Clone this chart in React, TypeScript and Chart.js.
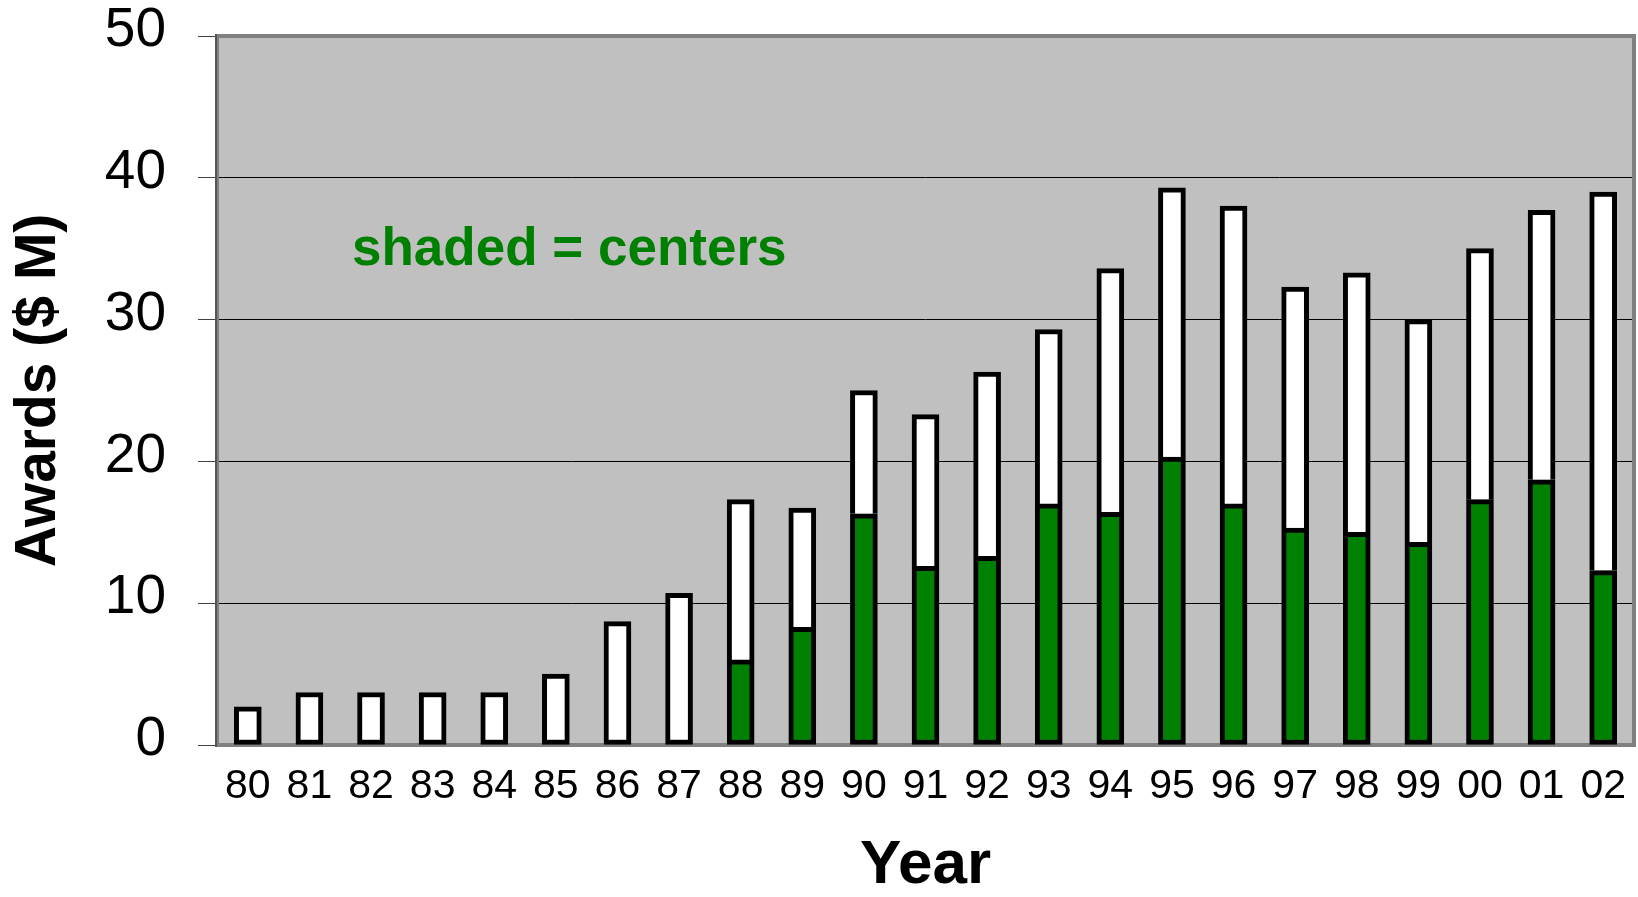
import React, { useEffect, useRef } from 'react';
import { Chart, registerables } from 'chart.js';

Chart.register(...registerables);

// ---- data ----
const years = ['80', '81', '82', '83', '84', '85', '86', '87', '88', '89', '90', '91', '92', '93', '94', '95', '96', '97', '98', '99', '00', '01', '02'];
const totalAwards = [2.7, 3.7, 3.7, 3.7, 3.7, 5.0, 8.7, 10.7, 17.3, 16.7, 25.0, 23.3, 26.3, 29.3, 33.6, 39.3, 38.0, 32.3, 33.3, 30.0, 35.0, 37.7, 39.0];
const centerAwards: (number | null)[] = [null, null, null, null, null, null, null, null, 6.0, 8.3, 16.3, 12.6, 13.3, 17.0, 16.4, 20.3, 17.0, 15.3, 15.0, 14.3, 17.3, 18.7, 12.3];
const yTicks = [0, 10, 20, 30, 40, 50];
const annotationText = 'shaded = centers';

const FONT = "'Liberation Sans', Arial, Helvetica, sans-serif";

const otherAwards = totalAwards.map((t, i) => {
  const c = centerAwards[i];
  return c == null ? t : +(t - c).toFixed(2);
});

const plotFrame = {
  id: 'plotFrame',
  beforeDraw(chart: any) {
    const { ctx, chartArea: a, width, height } = chart;
    ctx.save();
    ctx.fillStyle = '#ffffff';
    ctx.fillRect(0, 0, width, height);
    ctx.fillStyle = '#C0C0C0';
    ctx.fillRect(a.left, a.top, a.right - a.left, a.bottom - a.top);
    ctx.restore();
  },
  beforeDatasetsDraw(chart: any) {
    const { ctx, chartArea: a } = chart;
    ctx.save();
    ctx.strokeStyle = '#808080';
    ctx.lineWidth = 4;
    ctx.strokeRect(a.left, a.top, a.right - a.left, a.bottom - a.top);
    ctx.strokeStyle = '#555555';
    ctx.lineWidth = 2;
    ctx.beginPath();
    ctx.moveTo(a.left - 1, a.top - 2);
    ctx.lineTo(a.left - 1, a.bottom + 2);
    ctx.stroke();
    // annotation
    ctx.fillStyle = '#008000';
    ctx.font = `bold 53px ${FONT}`;
    ctx.textAlign = 'left';
    ctx.textBaseline = 'alphabetic';
    ctx.fillText(annotationText, a.left + 135, a.top + 229);
    ctx.restore();
  },
};

export default function App() {
  const canvasRef = useRef<HTMLCanvasElement | null>(null);

  useEffect(() => {
    document.body.style.margin = '0';
    const canvas = canvasRef.current;
    if (!canvas) return;
    const chart = new Chart(canvas, {
      type: 'bar',
      data: {
        labels: years,
        datasets: [
          {
            label: 'Centers',
            data: centerAwards,
            backgroundColor: '#008000',
            borderColor: '#000000',
            borderWidth: 5,
            borderSkipped: false,
            barThickness: 27,
          },
          {
            label: 'Other',
            data: otherAwards,
            backgroundColor: '#ffffff',
            borderColor: '#000000',
            borderWidth: 5,
            borderSkipped: (ctx: any) => (centerAwards[ctx.dataIndex] != null ? 'bottom' : false),
            barThickness: 27,
          },
        ] as any,
      },
      options: {
        animation: false,
        responsive: false,
        devicePixelRatio: 1,
        layout: { padding: { top: 36, right: 4, left: 0, bottom: 0 } },
        plugins: {
          legend: { display: false },
          tooltip: { enabled: false },
        },
        scales: {
          x: {
            type: 'category',
            stacked: true,
            grid: { display: false, drawTicks: false },
            border: { display: false },
            ticks: {
              color: '#000',
              font: { family: FONT, size: 41, lineHeight: 1 },
              padding: 21,
              maxRotation: 0,
              minRotation: 0,
              autoSkip: false,
            },
            title: {
              display: true,
              text: 'Year',
              color: '#000',
              font: { family: FONT, size: 62, weight: 'bold', lineHeight: 1 },
              padding: { top: 0, bottom: 0 },
            },
            afterFit: (scale: any) => {
              scale.height = 152;
              scale.paddingLeft = 0;
              scale.paddingRight = 0;
            },
          },
          y: {
            type: 'linear',
            stacked: true,
            min: 0,
            max: 50,
            afterBuildTicks: (scale: any) => {
              scale.ticks = yTicks.map((v) => ({ value: v }));
            },
            grid: {
              color: (ctx: any) => (ctx.tick && (ctx.tick.value === 0 || ctx.tick.value === 50) ? 'rgba(0,0,0,0)' : '#000000'),
              tickColor: '#404040',
              lineWidth: 1,
              tickLength: 19,
              drawTicks: true,
            },
            border: { display: false },
            ticks: {
              color: '#000',
              font: { family: FONT, size: 55, lineHeight: 1 },
              padding: 32,
              labelOffset: -5,
              callback: (v: any) => String(v),
            },
            title: {
              display: true,
              text: 'Awards ($ M)',
              color: '#000',
              font: { family: FONT, size: 57, weight: 'bold', lineHeight: 1 },
              padding: { top: 10.5, bottom: 0 },
            },
            afterFit: (scale: any) => {
              scale.width = 217;
              scale.paddingTop = 0;
              scale.paddingBottom = 0;
            },
          },
        },
      } as any,
      plugins: [plotFrame],
    });
    return () => chart.destroy();
  }, []);

  return (
    <div style={{ position: 'fixed', left: 0, top: 0, width: 1638, height: 897, background: '#fff' }}>
      <canvas ref={canvasRef} width={1638} height={897} style={{ display: 'block' }} />
    </div>
  );
}
